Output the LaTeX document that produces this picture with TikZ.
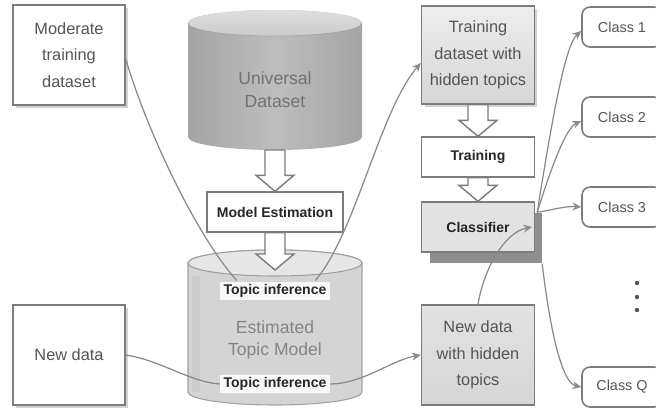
\documentclass[tikz,border=0pt]{standalone}
\usepackage{fontspec}
\setmainfont{Liberation Sans}
\usetikzlibrary{arrows.meta,calc,shadows}

\definecolor{boxedge}{HTML}{7C7C7C}
\definecolor{wire}{HTML}{8A8A8A}
\definecolor{inktext}{HTML}{555555}
\definecolor{darkink}{HTML}{262626}
\definecolor{softink}{HTML}{858585}
\definecolor{uniink}{HTML}{727272}
\definecolor{paneltop}{HTML}{EDEDED}
\definecolor{panelbot}{HTML}{D6D6D6}
\definecolor{panelfill}{HTML}{E2E2E2}
\definecolor{shadowgray}{HTML}{8E8E8E}
\definecolor{unidark}{HTML}{A4A4A4}
\definecolor{unimid}{HTML}{BDBDBD}
\definecolor{unilid}{HTML}{DEDEDE}
\definecolor{unilidb}{HTML}{CBCBCB}
\definecolor{estbody}{HTML}{D4D4D4}
\definecolor{estside}{HTML}{C8C8C8}
\definecolor{estlid}{HTML}{E6E6E6}

\tikzset{
  plainbox/.style={draw=boxedge, line width=0.8pt, fill=white,
    minimum width=2.24cm, minimum height=2cm, align=center, text=inktext,
    font=\fontsize{9.3}{15}\selectfont, inner sep=1pt},
  softshadow/.style={drop shadow={shadow xshift=0.06cm, shadow yshift=-0.06cm,
    fill=gray, opacity=0.35}},
  greybox/.style={plainbox, top color=paneltop, bottom color=panelbot},
  labelbox/.style={draw=boxedge, line width=0.8pt, fill=white,
    minimum width=2.26cm, minimum height=0.8cm, text=darkink,
    font=\bfseries\fontsize{8}{10}\selectfont},
  classbox/.style={draw=boxedge, line width=0.9pt, rounded corners=0.16cm,
    fill=white, minimum width=1.6cm, minimum height=0.8cm, text=inktext,
    font=\fontsize{8.2}{10}\selectfont},
  tilabel/.style={fill=white, fill opacity=0.85, text opacity=1, text=darkink,
    font=\bfseries\fontsize{8}{10}\selectfont, inner xsep=2pt, inner ysep=1.5pt},
  wireline/.style={draw=wire, line width=0.7pt},
  wirearrow/.style={wireline, -{Stealth[length=5pt,width=4.5pt]}},
  hollow/.style={fill=white, draw=boxedge, line width=0.8pt},
}

% block arrow pointing down from #1 to #2
\newcommand\hollowarrow[2]{%
  \filldraw[hollow] ($(#1)+(-10,0)$) -- ($(#1)+(10,0)$) -- ($(#2)+(10,-16)$)
    -- ($(#2)+(19,-16)$) -- (#2) -- ($(#2)+(-19,-16)$) -- ($(#2)+(-10,-16)$) -- cycle;}

\begin{document}
\begin{tikzpicture}[x=0.02cm, y=-0.02cm]
\clip (0,0) rectangle (656,407);
\fill[white] (0,0) rectangle (656,407);

% ---- Universal Dataset cylinder ----
\shade[left color=unidark, right color=unidark, middle color=unimid]
  (188,23) -- (188,137) arc[start angle=180, end angle=0, x radius=87, y radius=13]
  -- (362,23) arc[start angle=360, end angle=180, x radius=87, y radius=13] -- cycle;
\shade[top color=unilid, bottom color=unilidb]
  (275,23) ellipse[x radius=87, y radius=13];
\draw[draw=unidark!80!black, line width=0.4pt, opacity=0.4]
  (188,23) arc[start angle=180, end angle=0, x radius=87, y radius=13];
\node[text=uniink, align=center, font=\fontsize{10}{13}\selectfont] (uni) at (275,90)
  {Universal\\Dataset};
\coordinate (unibot) at (275,150);

% ---- Estimated Topic Model cylinder ----
\filldraw[fill=estbody, draw=estside!80!black, line width=0.6pt]
  (188,263) -- (188,392) arc[start angle=180, end angle=0, x radius=87, y radius=13]
  -- (362,263) arc[start angle=360, end angle=180, x radius=87, y radius=13] -- cycle;
\filldraw[fill=estlid, draw=estside!80!black, line width=0.6pt]
  (275,263) ellipse[x radius=87, y radius=13];
\fill[estside, opacity=0.6] (192,276) rectangle (200,392);
\node[text=softink, align=center, font=\fontsize{10}{13}\selectfont] (est) at (275,340)
  {Estimated\\Topic Model};
\coordinate (esttip) at (275,270);

% ---- left column ----
\node[plainbox, softshadow] (mod) at (69,55) {Moderate\\training\\dataset};
\node[plainbox, softshadow] (nd) at (69,355) {New data};

% ---- middle column ----
\node[labelbox, minimum width=2.72cm] (me) at (275,212) {Model Estimation};
\hollowarrow{unibot}{me.north}
\hollowarrow{me.south}{esttip}
\node[tilabel] (ti1) at (275,291) {Topic inference};
\node[tilabel] (ti2) at (275,384) {Topic inference};

% ---- right column ----
\node[greybox, minimum width=2.26cm, minimum height=1.96cm, softshadow] (tdh) at (478,55)
  {Training\\dataset with\\hidden topics};
\node[labelbox] (tr) at (478,157) {Training};
\node[labelbox, minimum height=1cm, fill=panelfill,
  drop shadow={shadow xshift=0.16cm, shadow yshift=-0.22cm, fill=shadowgray, opacity=1}]
  (cl) at (478,227) {Classifier};
\node[greybox, minimum width=2.26cm, fill=panelfill, top color=panelfill, bottom color=panelbot] (ndh) at (478,355)
  {New data\\with hidden\\topics};
\hollowarrow{tdh.south}{tr.north}
\hollowarrow{tr.south}{cl.north}

% ---- classes ----
\node[classbox] (c1) at (622,27) {Class 1};
\node[classbox] (c2) at (622,117) {Class 2};
\node[classbox] (c3) at (622,207) {Class 3};
\node[classbox] (cq) at (622,387) {Class Q};
\foreach \yy in {283,297,310} \fill[inktext] (637,\yy) circle[radius=2.2];

% ---- connectors ----
\draw[wireline] ($(mod.east)+(0,4)$) .. controls (150,140) and (200,240) .. ($(ti1.north west)+(17,-1)$);
\draw[wirearrow] ($(ti1.north east)+(-15,-1)$) .. controls (355,235) and (380,110) .. ($(tdh.west)+(0,8)$);
\draw[wireline] (nd.east) .. controls (160,360) and (190,382) .. (ti2.west);
\draw[wirearrow] (ti2.east) .. controls (362,384) and (392,360) .. (ndh.west);
\draw[wirearrow] (ndh.north) .. controls (484,268) and (505,232) .. ($(cl.east)+(-3,0)$);

\coordinate (fan) at ($(cl.north east)+(2,11)$);
\coordinate (fanq) at ($(cl.south east)+(7,11)$);
\draw[wirearrow] (fan) .. controls (552,120) and (565,45) .. ($(c1.west)+(0,4)$);
\draw[wirearrow] (fan) .. controls (552,165) and (566,128) .. ($(c2.west)+(0,4)$);
\draw[wirearrow] (fan) .. controls (556,209) and (566,206) .. (c3.west);
\draw[wirearrow] (fanq) .. controls (550,330) and (562,383) .. (cq.west);
\end{tikzpicture}
\end{document}
